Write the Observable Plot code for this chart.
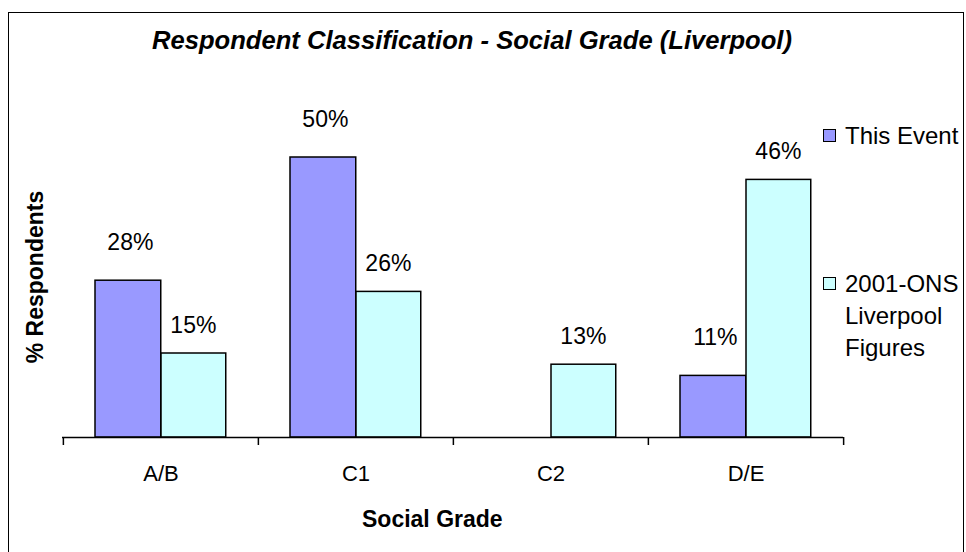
<!DOCTYPE html>
<html>
<head>
<meta charset="utf-8">
<script src="https://cdn.jsdelivr.net/npm/d3@7"></script>
<script src="https://cdn.jsdelivr.net/npm/@observablehq/plot@0.6"></script>
<style>
  body { margin: 0; background: #fff; font-family: "Liberation Sans", Arial, sans-serif; }
  #wrap { position: relative; width: 966px; height: 552px; overflow: hidden; }
  #frame { position: absolute; left: 8px; top: 12px; width: 956px; height: 542px; border: 1.5px solid #000; box-sizing: border-box; }
  .t { position: absolute; white-space: nowrap; color: #000; }
  #title { left: 472px; top: 40px; transform: translate(-50%, -50%); font-size: 25.6px; font-weight: bold; font-style: italic; }
  #ylab { left: 35px; top: 277px; transform: translate(-50%, -50%) rotate(-90deg); font-size: 23px; font-weight: bold; }
  #xlab { left: 362px; top: 519px; transform: translateY(-50%); font-size: 23px; font-weight: bold; }
  .sw { position: absolute; width: 13px; height: 13px; border: 1.5px solid #000; box-sizing: border-box; }
  .lg { position: absolute; font-size: 24px; line-height: 32px; }
</style>
</head>
<body>
<div id="wrap">
  <div id="chart"></div>
  <div id="frame"></div>
  <div class="t" id="title">Respondent Classification - Social Grade (Liverpool)</div>
  <div class="t" id="ylab">% Respondents</div>
  <div class="t" id="xlab">Social Grade</div>
  <div id="legend"></div>
</div>
<script>
const grades = ["A/B", "C1", "C2", "D/E"];
const seriesNames = ["This Event", "2001-ONS Liverpool Figures"];
const thisEvent = [28, 50, null, 11];
const onsLiverpool = [15, 26, 13, 46];
const seriesColors = ["#9999FF", "#CCFFFF"];

const rows = [];
grades.forEach((g, i) => {
  rows.push({grade: g, series: seriesNames[0], value: thisEvent[i]});
  rows.push({grade: g, series: seriesNames[1], value: onsLiverpool[i]});
});
const s0 = rows.filter(d => d.series === seriesNames[0] && d.value != null);
const s1 = rows.filter(d => d.series === seriesNames[1] && d.value != null);

const W = 966, H = 552;
const mL = 62, mR = 123;
const bw = (W - mL - mR) / grades.length;

const chart = Plot.plot({
  width: W,
  height: H,
  marginLeft: mL,
  marginRight: mR,
  marginTop: 157,
  marginBottom: 115,
  style: {fontFamily: "'Liberation Sans', Arial, sans-serif", background: "transparent"},
  x: {type: "band", domain: grades, padding: 0, axis: null},
  y: {domain: [0, 50], axis: null},
  marks: [
    Plot.barY(s0, {x: "grade", y: "value", fill: seriesColors[0], stroke: "#000", strokeWidth: 1.5, insetLeft: 32, insetRight: bw - 98}),
    Plot.barY(s1, {x: "grade", y: "value", fill: seriesColors[1], stroke: "#000", strokeWidth: 1.5, insetLeft: 98, insetRight: bw - 163}),
    Plot.ruleY([0], {stroke: "#000", strokeWidth: 1.5}),
    Plot.ruleX(grades, {x: d => d, y1: 0, y2: 0, dx: -bw / 2, insetBottom: -8, stroke: "#000", strokeWidth: 1.5}),
    Plot.ruleX([grades[grades.length - 1]], {x: d => d, y1: 0, y2: 0, dx: bw / 2, insetBottom: -8, stroke: "#000", strokeWidth: 1.5}),
    Plot.text(grades, {x: d => d, frameAnchor: "bottom", lineAnchor: "middle", dy: 36, text: d => d, fontSize: 22, fill: "#000"}),
    Plot.text(s0, {x: "grade", y: "value", text: d => d.value + "%", dx: 35 - bw / 2 + 32, dy: -38, fontSize: 23, fill: "#000"}),
    Plot.text(s1, {x: "grade", y: "value", text: d => d.value + "%", dx: 130 - bw / 2, dy: -28, fontSize: 23, fill: "#000"})
  ]
});
document.getElementById("chart").appendChild(chart);

// legend
const legend = document.getElementById("legend");
const items = [
  {name: "This Event", color: seriesColors[0], top: 129, lines: ["This Event"]},
  {name: seriesNames[1], color: seriesColors[1], top: 277, lines: ["2001-ONS", "Liverpool", "Figures"]}
];
items.forEach(it => {
  const sw = document.createElement("div");
  sw.className = "sw";
  sw.style.left = "823px";
  sw.style.top = it.top + "px";
  sw.style.background = it.color;
  legend.appendChild(sw);
  const tx = document.createElement("div");
  tx.className = "lg";
  tx.style.left = "845px";
  tx.style.top = (it.top + 6.5 - 16) + "px";
  tx.innerHTML = it.lines.join("<br>");
  legend.appendChild(tx);
});
</script>
</body>
</html>
